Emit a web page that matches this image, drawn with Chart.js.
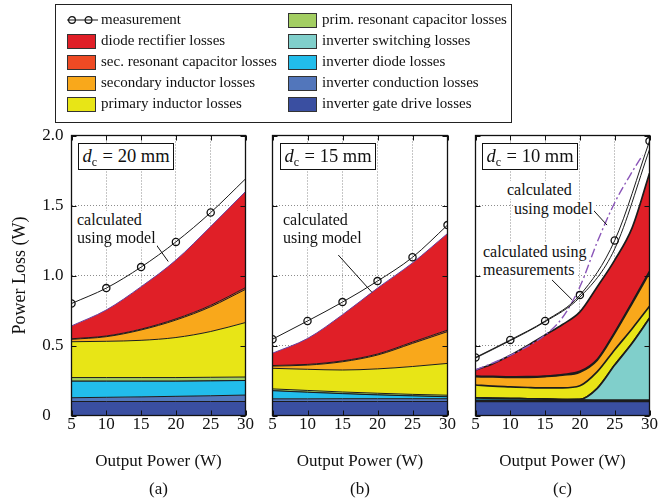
<!DOCTYPE html>
<html>
<head>
<meta charset="utf-8">
<script src="https://cdn.jsdelivr.net/npm/chart.js@4.4.1/dist/chart.umd.min.js"></script>
<style>
  html, body { margin: 0; padding: 0; background: #fff; }
  #wrap { position: relative; width: 663px; height: 504px; overflow: hidden;
          font-family: "Liberation Serif", "Times New Roman", Times, "DejaVu Serif", serif; color: #111; }
  #wrap canvas { position: absolute; left: 0; top: 0; }
  .legend { position: absolute; left: 55px; top: 4px; width: 457px; height: 119px;
            border: 1px solid #222; box-sizing: border-box; }
  .sw { position: absolute; width: 29px; height: 15px; border: 1px solid #333; box-sizing: border-box; }
  .lt { position: absolute; font-size: 15px; line-height: 18px; white-space: nowrap; }
  .dc { position: absolute; top: 143px; height: 27px; border: 1px solid #111; background: #fff;
        box-sizing: border-box; font-size: 18.5px; line-height: 25px; text-align: center; white-space: nowrap; }
  .dc i { font-style: italic; }
  .dc .sub { font-size: 12px; position: relative; top: 4px; margin-right: 1px; }
  .note { position: absolute; font-size: 16px; line-height: 18px; background: #fff; white-space: nowrap; padding: 0 1px; }
</style>
</head>
<body>
<div id="wrap">
  <canvas id="chartA" width="663" height="504"></canvas>
  <canvas id="chartB" width="663" height="504"></canvas>
  <canvas id="chartC" width="663" height="504"></canvas>
  <div class="legend"></div>

  <div class="note" style="left:76px;top:211px">calculated</div>
  <div class="note" style="left:76px;top:229px">using model</div>
  <div class="note" style="left:282px;top:211px">calculated</div>
  <div class="note" style="left:282px;top:229px">using model</div>
  <div class="note" style="left:506px;top:181px">calculated</div>
  <div class="note" style="left:513px;top:200px">using model</div>
  <div class="note" style="left:482px;top:243px">calculated using</div>
  <div class="note" style="left:482px;top:261px">measurements</div>
</div>

<script>
// stack layers, bottom to top
const layerNames = [
  'inverter gate drive losses', 'inverter conduction losses', 'inverter diode losses',
  'inverter switching losses', 'prim. resonant capacitor losses', 'primary inductor losses',
  'secondary inductor losses', 'sec. resonant capacitor losses', 'diode rectifier losses'
];
const layerColors = [
  '#3a4fa1', '#5276bb', '#22bdeb', '#80cfcb', '#a3ce62', '#e8e516', '#f9a81b', '#ee4a24', '#e01f27'
];
const coilDistances = [20, 15, 10];
const captions = ['(a)', '(b)', '(c)'];

// (a) d_c = 20 mm
const powerA = [5, 10, 15, 20, 25, 30];
const gateA = [0.100, 0.100, 0.100, 0.100, 0.100, 0.100];
const condA = [0.027, 0.030, 0.033, 0.037, 0.041, 0.046];
const diodeA = [0.118, 0.115, 0.112, 0.108, 0.106, 0.104];
const switchA = [0, 0, 0, 0, 0, 0];
const primCapA = [0.026, 0.026, 0.026, 0.026, 0.026, 0.025];
const primIndA = [0.256, 0.259, 0.266, 0.286, 0.327, 0.389];
const secIndA = [0.017, 0.033, 0.074, 0.125, 0.177, 0.237];
const secCapA = [0.004, 0.005, 0.006, 0.008, 0.010, 0.012];
const rectA = [0.092, 0.186, 0.303, 0.420, 0.563, 0.687];
const measA = [0.80, 0.91, 1.06, 1.24, 1.45, 1.69];

// (b) d_c = 15 mm
const powerB = [5, 10, 15, 20, 25, 30];
const gateB = [0.100, 0.100, 0.100, 0.100, 0.100, 0.100];
const condB = [0.019, 0.019, 0.020, 0.020, 0.020, 0.020];
const diodeB = [0.058, 0.047, 0.036, 0.027, 0.020, 0.014];
const switchB = [0, 0, 0, 0, 0, 0];
const primCapB = [0.013, 0.013, 0.012, 0.012, 0.011, 0.011];
const primIndB = [0.147, 0.151, 0.157, 0.174, 0.199, 0.227];
const secIndB = [0.016, 0.030, 0.059, 0.099, 0.165, 0.227];
const secCapB = [0.004, 0.005, 0.006, 0.007, 0.009, 0.011];
const rectB = [0.088, 0.185, 0.330, 0.471, 0.566, 0.690];
const measB = [0.545, 0.675, 0.81, 0.96, 1.13, 1.36];

// (c) d_c = 10 mm
const powerC = [5, 7.5, 10, 12.5, 15, 17.5, 20, 22.5, 25, 27.5, 30];
const gateC = [0.100, 0.100, 0.100, 0.100, 0.100, 0.100, 0.100, 0.100, 0.100, 0.100, 0.100];
const condC = [0.008, 0.008, 0.008, 0.008, 0.008, 0.008, 0.008, 0.008, 0.008, 0.008, 0.008];
const diodeC = [0.017, 0.015, 0.013, 0.011, 0.009, 0.006, 0.003, 0, 0, 0, 0];
const switchC = [0, 0, 0, 0, 0, 0, 0.004, 0.086, 0.252, 0.408, 0.586];
const primCapC = [0, 0, 0, 0, 0, 0, 0, 0, 0, 0, 0];
const primIndC = [0.093, 0.087, 0.084, 0.081, 0.080, 0.083, 0.097, 0.119, 0.110, 0.104, 0.086];
const secIndC = [0.059, 0.065, 0.067, 0.073, 0.081, 0.091, 0.098, 0.083, 0.117, 0.180, 0.240];
const secCapC = [0.004, 0.004, 0.004, 0.004, 0.004, 0.005, 0.005, 0.006, 0.007, 0.008, 0.010];
const rectC = [0.044, 0.091, 0.154, 0.223, 0.293, 0.357, 0.425, 0.518, 0.516, 0.532, 0.700];
const powerMeasC = [5, 10, 15, 20, 25, 30];
const measC = [0.415, 0.54, 0.675, 0.86, 1.25, 1.96];
const modelC = [0.41, 0.535, 0.67, 0.845, 1.19, 1.90];
const powerEstC = [5, 10, 15, 17.5, 20, 22.5, 25, 27.5, 29];
const estC = [0.325, 0.43, 0.575, 0.70, 0.92, 1.24, 1.52, 1.74, 1.86];

const FONT = '"Liberation Serif", "Times New Roman", Times, "DejaVu Serif", serif';
Chart.defaults.font.family = FONT;
Chart.defaults.color = '#111';

// legend: measurement first, then layers from top of the stack down
const wrap = document.getElementById('wrap');
const entries = [{ name: 'measurement' }].concat(
  layerNames.map((n, i) => ({ name: n, color: layerColors[i] })).reverse()
);
entries.forEach((e, k) => {
  const col = k < 5 ? 0 : 1;
  const row = k % 5;
  const sx = col ? 288 : 67;
  const cy = 20 + row * 21;
  if (e.color) {
    const sw = document.createElement('div');
    sw.className = 'sw';
    sw.style.left = sx + 'px';
    sw.style.top = (cy - 7.5) + 'px';
    sw.style.background = e.color;
    wrap.appendChild(sw);
  } else {
    const ns = 'http://www.w3.org/2000/svg';
    const svg = document.createElementNS(ns, 'svg');
    svg.setAttribute('width', '31');
    svg.setAttribute('height', '12');
    svg.style.position = 'absolute';
    svg.style.left = sx + 'px';
    svg.style.top = (cy - 6) + 'px';
    svg.innerHTML = '<line x1="0" y1="6" x2="31" y2="6" stroke="#111" stroke-width="1"/>' +
      '<circle cx="5" cy="6" r="3.4" fill="none" stroke="#111" stroke-width="1.2"/>' +
      '<circle cx="21.5" cy="6" r="3.4" fill="none" stroke="#111" stroke-width="1.2"/>';
    wrap.appendChild(svg);
  }
  const t = document.createElement('div');
  t.className = 'lt';
  t.textContent = e.name;
  t.style.left = (sx + 34) + 'px';
  t.style.top = (cy - 10) + 'px';
  wrap.appendChild(t);
});

// d_c boxes
[78, 280, 482].forEach((left, i) => {
  const d = document.createElement('div');
  d.className = 'dc';
  d.style.left = left + 'px';
  d.style.width = '96px';
  d.innerHTML = '<i>d</i><span class="sub">c</span> = ' + coilDistances[i] + ' mm';
  wrap.appendChild(d);
});

// frame with inward ticks, plus leader lines for the notes
const framePlugin = {
  id: 'frame',
  afterDatasetsDraw(chart, args, opts) {
    const { ctx, chartArea: a, scales: { x, y } } = chart;
    ctx.save();
    ctx.strokeStyle = '#111';
    ctx.lineWidth = 1;
    ctx.beginPath();
    x.ticks.forEach(t => {
      const px = Math.round(x.getPixelForValue(t.value)) + 0.5;
      ctx.moveTo(px, a.bottom); ctx.lineTo(px, a.bottom - 5);
      ctx.moveTo(px, a.top); ctx.lineTo(px, a.top + 5);
    });
    y.ticks.forEach(t => {
      const py = Math.round(y.getPixelForValue(t.value)) + 0.5;
      ctx.moveTo(a.left, py); ctx.lineTo(a.left + 5, py);
      ctx.moveTo(a.right, py); ctx.lineTo(a.right - 5, py);
    });
    (opts.pointers || []).forEach(p => {
      ctx.moveTo(x.getPixelForValue(p[0]), y.getPixelForValue(p[1]));
      ctx.lineTo(x.getPixelForValue(p[2]), y.getPixelForValue(p[3]));
    });
    ctx.stroke();
    ctx.lineWidth = 1.3;
    ctx.strokeRect(a.left, a.top, a.right - a.left, a.bottom - a.top);
    ctx.restore();
  }
};

function pts(xs, ys) {
  return ys.map((v, j) => ({ x: xs[j], y: v }));
}

function layerSets(power, layers, width, topColor) {
  return layers.map((vals, i) => ({
    label: layerNames[i],
    data: pts(power, vals),
    stack: 'model',
    fill: i === 0 ? 'origin' : '-1',
    backgroundColor: layerColors[i],
    borderColor: (i === layers.length - 1 && topColor) ? topColor : '#1c1c1c',
    borderWidth: width,
    pointRadius: 0,
    cubicInterpolationMode: 'monotone',
    clip: 0
  }));
}

function measSet(xs, ys, radii) {
  return {
    label: 'measurement',
    data: pts(xs, ys),
    stack: 'meas',
    fill: false,
    borderColor: '#1a1a1a',
    borderWidth: 1,
    pointRadius: radii,
    pointBorderWidth: 1.3,
    pointBorderColor: '#111',
    pointBackgroundColor: 'rgba(255,255,255,0)',
    cubicInterpolationMode: 'monotone',
    clip: 0
  };
}

function makeChart(id, p) {
  const gridOpts = { color: '#8c8c8c', lineWidth: 1, drawTicks: false };
  const borderOpts = { display: false, dash: [1, 2] };
  return new Chart(document.getElementById(id), {
    type: 'line',
    data: { datasets: p.lines.concat(p.layers) },
    options: {
      responsive: false,
      animation: false,
      devicePixelRatio: 1,
      layout: { padding: { left: p.padLeft, right: p.padRight, top: 135.5, bottom: 0 } },
      plugins: {
        legend: { display: false },
        tooltip: { enabled: false },
        frame: { pointers: p.pointers }
      },
      scales: {
        x: {
          type: 'linear', min: 5, max: 30,
          ticks: { stepSize: 5, padding: 0, maxRotation: 0, autoSkip: false,
                   font: { size: 17, lineHeight: 1.1 }, color: '#111' },
          grid: gridOpts,
          border: borderOpts,
          title: { display: true, text: ['Output Power (W)', p.caption], color: '#111',
                   font: { size: 17, lineHeight: '28px' }, padding: { top: 0, bottom: 0.5 } },
          afterFit(s) { s.height = 88.5; }
        },
        y: {
          type: 'linear', stacked: true, min: 0, max: 2,
          ticks: { display: p.showY, stepSize: 0.5, padding: 8, color: '#111',
                   font: { size: 17 },
                   // the zero sits out in the corner, left of the other labels
                   callback: v => v === 0 ? '0   ' : v.toFixed(1) },
          grid: gridOpts,
          border: borderOpts,
          title: { display: p.showY, text: 'Power Loss (W)', color: '#111',
                   font: { size: 18 }, padding: { top: 9, bottom: 0 } },
          afterFit(s) { s.width = p.yWidth; }
        }
      }
    },
    plugins: [framePlugin]
  });
}

makeChart('chartA', {
  padLeft: 0, yWidth: 71.5, padRight: 663 - 245.5, showY: true, caption: captions[0],
  lines: [measSet(powerA, measA, [3.6, 3.6, 3.6, 3.6, 3.6, 0])],
  layers: layerSets(powerA, [gateA, condA, diodeA, switchA, primCapA, primIndA, secIndA, secCapA, rectA], 1, '#6a3f9e'),
  pointers: [[17.2, 1.218, 18.9, 1.10]]
});

makeChart('chartB', {
  padLeft: 262.5, yWidth: 10, padRight: 663 - 447.5, showY: false, caption: captions[1],
  lines: [measSet(powerB, measB, 3.6)],
  layers: layerSets(powerB, [gateB, condB, diodeB, switchB, primCapB, primIndB, secIndB, secCapB, rectB], 1, '#6a3f9e'),
  pointers: [[14.4, 1.146, 19.2, 0.88]]
});

makeChart('chartC', {
  padLeft: 465.5, yWidth: 10, padRight: 663 - 649.5, showY: false, caption: captions[2],
  lines: [
    measSet(powerMeasC, measC, 3.6),
    { label: 'model', data: pts(powerMeasC, modelC), stack: 'model2', fill: false,
      borderColor: '#1a1a1a', borderWidth: 1, pointRadius: 0,
      cubicInterpolationMode: 'monotone', clip: 0 },
    { label: 'estimate', data: pts(powerEstC, estC), stack: 'est', fill: false,
      borderColor: '#8a55b8', borderWidth: 1.4, borderDash: [9, 3, 2, 3], pointRadius: 0,
      cubicInterpolationMode: 'monotone', clip: 0 }
  ],
  layers: layerSets(powerC, [gateC, condC, diodeC, switchC, primCapC, primIndC, secIndC, secCapC, rectC], 1.7, null),
  pointers: [[21.5, 1.49, 23.9, 1.36], [16.0, 0.968, 18.9, 0.825]]
});
</script>
</body>
</html>
